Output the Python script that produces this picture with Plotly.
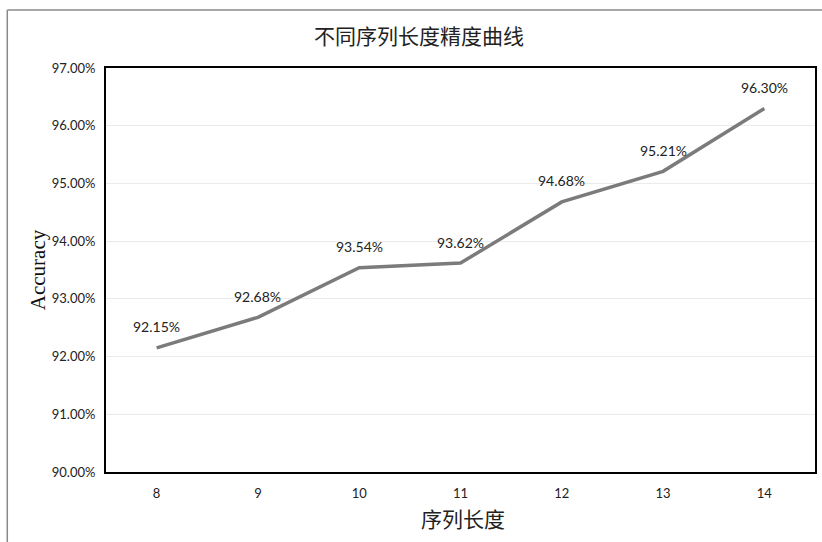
import plotly.graph_objects as go

seq_len = ["8", "9", "10", "11", "12", "13", "14"]
accuracy = [92.15, 92.68, 93.54, 93.62, 94.68, 95.21, 96.30]
y_ticks = [90, 91, 92, 93, 94, 95, 96, 97]

W, H = 822, 542
L, R, T, B = 106, 5, 68, 70
pw, ph = W - L - R, H - T - B

def px_x(p):
    return (p - L) / pw

def px_y(p):
    return (H - B - p) / ph

fig = go.Figure()
fig.add_trace(go.Scatter(
    x=seq_len, y=accuracy, mode="lines",
    line=dict(color="#7b7b7b", width=3.5),
    hoverinfo="skip", showlegend=False,
))

for i, yv in enumerate(accuracy):
    fig.add_annotation(x=i, y=yv, text=f"{yv:.2f}%", showarrow=False,
                       xanchor="center", yanchor="middle", yshift=21,
                       font=dict(family="Lato, Open Sans, sans-serif", size=14, color="#222"))

fig.update_layout(
    width=W, height=H,
    margin=dict(l=L, r=R, t=T, b=B),
    paper_bgcolor="white", plot_bgcolor="white",
    showlegend=False,
)
fig.update_xaxes(
    type="category", range=[-0.5, 6.5],
    showline=True, linecolor="black", linewidth=2, mirror=True,
    showgrid=False, ticks="", ticklabelstandoff=8,
    tickfont=dict(family="Lato, Open Sans, sans-serif", size=13, color="#222"),
)
fig.update_yaxes(
    range=[90, 97], tickvals=y_ticks, ticktext=[f"{v:.2f}%" for v in y_ticks],
    showline=True, linecolor="black", linewidth=2, mirror=True,
    showgrid=True, gridcolor="#ebebeb", gridwidth=1, zeroline=False,
    ticks="", ticklabelstandoff=6,
    tickfont=dict(family="Lato, Open Sans, sans-serif", size=13, color="#222"),
)

# titles
fig.add_annotation(xref="paper", yref="paper", x=px_x(420), y=px_y(35),
                   xanchor="center", yanchor="middle",
                   text="不同序列长度精度曲线", showarrow=False,
                   font=dict(family="Noto Sans CJK SC", size=21, color="#222"))
fig.add_annotation(xref="paper", yref="paper", x=px_x(464), y=px_y(518),
                   xanchor="center", yanchor="middle",
                   text="序列长度", showarrow=False,
                   font=dict(family="Noto Sans CJK SC", size=21, color="#222"))
fig.add_annotation(xref="paper", yref="paper", x=px_x(38), y=px_y(270),
                   xanchor="center", yanchor="middle",
                   text="Accuracy", showarrow=False, textangle=-90,
                   font=dict(family="Liberation Serif, serif", size=21, color="#111"))

# outer frame
fig.add_shape(type="line", xref="paper", yref="paper",
              x0=px_x(7), y0=px_y(10), x1=px_x(830), y1=px_y(10),
              line=dict(color="#8a8a8a", width=1.5))
fig.add_shape(type="line", xref="paper", yref="paper",
              x0=px_x(7), y0=px_y(10), x1=px_x(7), y1=px_y(550),
              line=dict(color="#8a8a8a", width=1.5))

fig.write_html("out.html")
